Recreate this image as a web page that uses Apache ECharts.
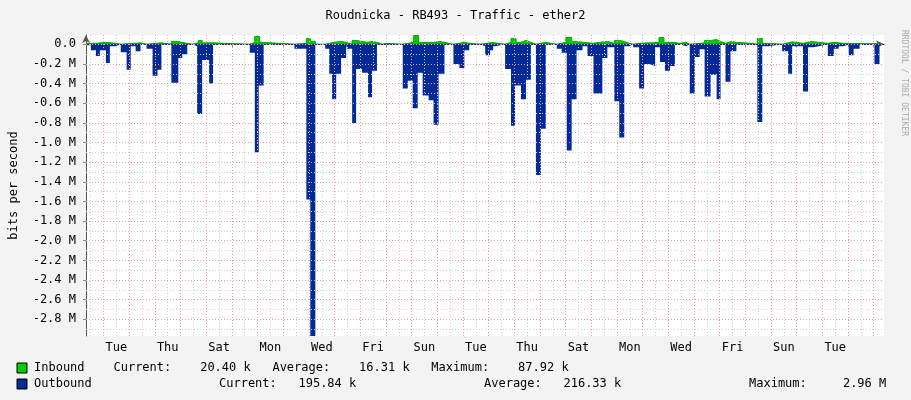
<!DOCTYPE html>
<html><head><meta charset="utf-8">
<script src="https://cdn.jsdelivr.net/npm/echarts@6/dist/echarts.min.js"></script>
<style>html,body{margin:0;padding:0;background:#f3f3f3}#c{width:911px;height:400px}</style>
</head><body><div id="c"></div>
<script>
// time in hours from left edge of plot; value in M bits/s
const outT=[0.9,4.6,9.3,13.0,18.6,22.3,27.8,32.5,38.0,41.8,46.4,51.0,56.6,62.2,66.8,70.5,79.8,86.3,90.0,94.7,99.3,103.9,108.6,115.1,118.8,153.1,157.8,161.5,166.1,194.9,206.0,209.7,214.4,223.6,227.4,230.1,233.9,238.5,243.2,244.1,248.8,252.5,258.1,263.7,267.4,272.0,296.1,300.8,305.4,310.1,314.7,320.3,324.9,329.6,335.1,343.5,349.1,353.7,358.3,368.6,373.2,377.8,380.6,382.5,391.8,397.3,401.1,406.6,411.3,415.9,420.6,425.2,429.8,440.1,444.7,449.4,454.0,458.6,464.2,468.8,474.4,482.7,487.4,493.9,498.5,503.2,507.8,511.5,517.1,521.7,526.4,532.0,536.6,541.2,545.9,550.5,555.1,560.7,564.4,569.1,573.7,578.3,583.9,589.5,593.2,597.8,602.5,608.0,622.0,627.6,632.2,637.8,650.8,656.4,660.1,670.3,675.0,679.6,685.1,693.5,699.1,703.7,708.3,713.0,717.6,723.2,737.1,741.8];
const outV=[0.01,0.06,0.12,0.06,0.19,0.02,0,0.08,0.26,0.02,0.07,0,0.045,0.32,0.26,0,0.39,0.14,0.10,0,0.02,0.71,0.16,0.40,0,0.085,1.10,0.42,0,0.045,1.58,2.97,0,0.045,0.30,0.56,0.30,0.14,0,0.045,0.80,0.25,0.29,0.54,0.27,0,0.45,0.37,0.65,0.29,0.52,0.57,0.82,0.30,0,0.20,0.24,0.06,0,0.02,0.11,0.06,0.02,0,0.25,0.83,0.42,0.56,0.36,0,1.33,0.86,0,0.045,0.085,1.08,0.56,0.06,0.02,0.12,0.50,0.14,0.03,0.58,0.95,0.02,0,0.03,0.45,0.20,0.22,0.03,0.18,0.27,0.22,0,0.02,0,0.50,0.13,0.05,0.53,0.31,0.56,0,0.38,0.07,0.005,0,0.79,0.02,0,0.07,0.30,0.02,0.48,0.03,0.02,0,0.12,0.045,0.02,0,0.11,0.045,0,0.20,0];
const inT=[0.9,9.3,18.6,27.8,32.5,51,56.6,70.5,79.8,85.4,94.7,99.3,104.9,108.6,118.8,153.1,157.8,162.4,166.1,194.9,206,209.7,214.4,223.6,232,238.5,243.2,248.8,252.5,262.8,267.4,272,276.7,280.4,296.1,306.3,310.9,324.9,330.5,335.1,343.5,353.7,358.3,368.6,380.6,382.5,391.8,397.3,402,406.6,411.3,415.9,420.6,429.8,440.1,448.5,454,458.6,473.5,480,487.4,493.9,498.5,503.2,507.8,511.5,517.1,535.7,540.3,550.5,555.1,560.7,564.4,578.3,584.8,589.5,593.2,597.8,603.4,608,622,627.6,632.2,637.8,650.8,656.4,660.1,670.3,677.8,685.1,693.5,699.1,708.3,737.1,741.8];
const inV=[0.01,0.02,0.01,0,0.015,0,0.015,0,0.03,0.01,0,0.015,0.04,0.015,0,0.02,0.08,0.02,0,0.01,0.06,0.03,0,0.02,0.03,0.02,0,0.04,0.02,0.03,0.02,0,0.01,0,0.02,0.09,0.02,0.03,0.02,0,0.02,0.01,0,0.02,0.015,0,0.02,0.06,0.02,0.04,0.02,0,0.02,0,0.02,0.07,0.03,0.01,0.02,0.03,0.01,0.04,0.03,0.01,0,0.01,0.02,0.07,0.02,0.01,0.02,0,0.015,0.04,0.05,0.03,0.01,0.03,0.02,0.01,0,0.06,0.01,0,0.015,0.025,0.01,0.03,0.02,0.01,0.02,0.01,0.005,0.015,0];
const dayLabels=['Tue','Thu','Sat','Mon','Wed','Fri','Sun','Tue','Thu','Sat','Mon','Wed','Fri','Sun','Tue'];
const yTicks=[0,-0.2,-0.4,-0.6,-0.8,-1.0,-1.2,-1.4,-1.6,-1.8,-2.0,-2.2,-2.4,-2.6,-2.8];

const OFF=16.4, XMAX=742.4;
const dayLines=[],midLines=[],labelPos=[];
for(let h=OFF;h<XMAX;h+=24)dayLines.push(+h.toFixed(2));
for(let h=OFF-12;h<XMAX;h+=24)if(h>0)midLines.push(+h.toFixed(2));
dayLabels.forEach((d,i)=>labelPos.push(OFF+12+48*i));
const yMinor=[];for(let i=1;i<30;i+=2)yMinor.push(-i/10);
const outData=outT.map((t,i)=>[t,-outV[i]]);
const inData=inT.map((t,i)=>[t,inV[i]]);
const mono='DejaVu Sans Mono';
const ml=(arr,key,color)=>arr.map(v=>({[key]:v,lineStyle:{color,type:[1,2],width:1}}));

const chart=echarts.init(document.getElementById('c'));
chart.setOption({
 backgroundColor:'#f3f3f3',animation:false,
 title:{text:'Roudnicka - RB493 - Traffic - ether2',left:'center',top:5,textStyle:{fontFamily:mono,fontSize:12,fontWeight:'normal',color:'#000'}},
 grid:{left:80,top:35,width:804,height:301,backgroundColor:'#fff',show:true,borderWidth:0},
 xAxis:{type:'value',min:0,max:746,
  axisLine:{lineStyle:{color:'#555'},symbol:['none','arrow'],symbolSize:[6,8],symbolOffset:[0,0]},
  axisTick:{customValues:dayLines,length:3,inside:false,lineStyle:{color:'#888'}},
  axisLabel:{customValues:labelPos,formatter:v=>dayLabels[Math.round((v-OFF-12)/48)],fontFamily:mono,fontSize:12,color:'#000',margin:6},
  splitLine:{show:false}},
 yAxis:{type:'value',min:-2.97,max:0.095,
  axisLine:{lineStyle:{color:'#555'},symbol:['none','arrow'],symbolSize:[6,8]},
  axisTick:{customValues:yTicks,length:3,lineStyle:{color:'#888'}},
  axisLabel:{customValues:yTicks,formatter:v=>Math.abs(v)<1e-9?'0.0':v.toFixed(1)+' M',fontFamily:mono,fontSize:12,color:'#000',margin:10},
  splitLine:{show:false},
  name:'bits per second',nameLocation:'middle',nameGap:66,nameTextStyle:{fontFamily:mono,fontSize:12,color:'#000'}},
 series:[
  {type:'line',data:[],silent:true,markLine:{silent:true,symbol:'none',label:{show:false},
    data:[...ml(midLines,'xAxis','#d0d0d0'),...ml(yMinor,'yAxis','#d0d0d0'),...ml(dayLines,'xAxis','#f0a0a0'),...ml(yTicks,'yAxis','#f0a0a0')]}},
  {type:'line',data:outData,step:'end',symbol:'none',lineStyle:{width:0},areaStyle:{color:'#002a97',opacity:1}},
  {type:'line',data:inData,step:'end',symbol:'none',lineStyle:{width:1,color:'#00aa00'},areaStyle:{color:'#00cc00',opacity:1}},
  {type:'line',data:[[0,0],[746,0]],symbol:'none',silent:true,lineStyle:{width:1,color:'#1a237e'}}
 ],
 graphic:[
  {type:'text',left:900,top:30,rotation:-Math.PI/2,style:{text:'RRDTOOL / TOBI OETIKER',fontFamily:mono,fontSize:8,fill:'#aaa'}},
  {type:'rect',shape:{x:17,y:363,width:10,height:10},style:{fill:'#00cc00',stroke:'#000',lineWidth:1}},
  {type:'rect',shape:{x:17,y:379,width:10,height:10},style:{fill:'#002a97',stroke:'#000',lineWidth:1}},
  {type:'text',x:34,y:362,style:{text:'Inbound    Current:    20.40 k   Average:    16.31 k   Maximum:    87.92 k',fontFamily:mono,fontSize:12,fill:'#000'}},
  {type:'text',x:34,y:378,style:{text:'Outbound',fontFamily:mono,fontSize:12,fill:'#000'}},
  {type:'text',x:219,y:378,style:{text:'Current:   195.84 k',fontFamily:mono,fontSize:12,fill:'#000'}},
  {type:'text',x:484,y:378,style:{text:'Average:   216.33 k',fontFamily:mono,fontSize:12,fill:'#000'}},
  {type:'text',x:749,y:378,style:{text:'Maximum:     2.96 M',fontFamily:mono,fontSize:12,fill:'#000'}}
 ]
});
</script></body></html>
